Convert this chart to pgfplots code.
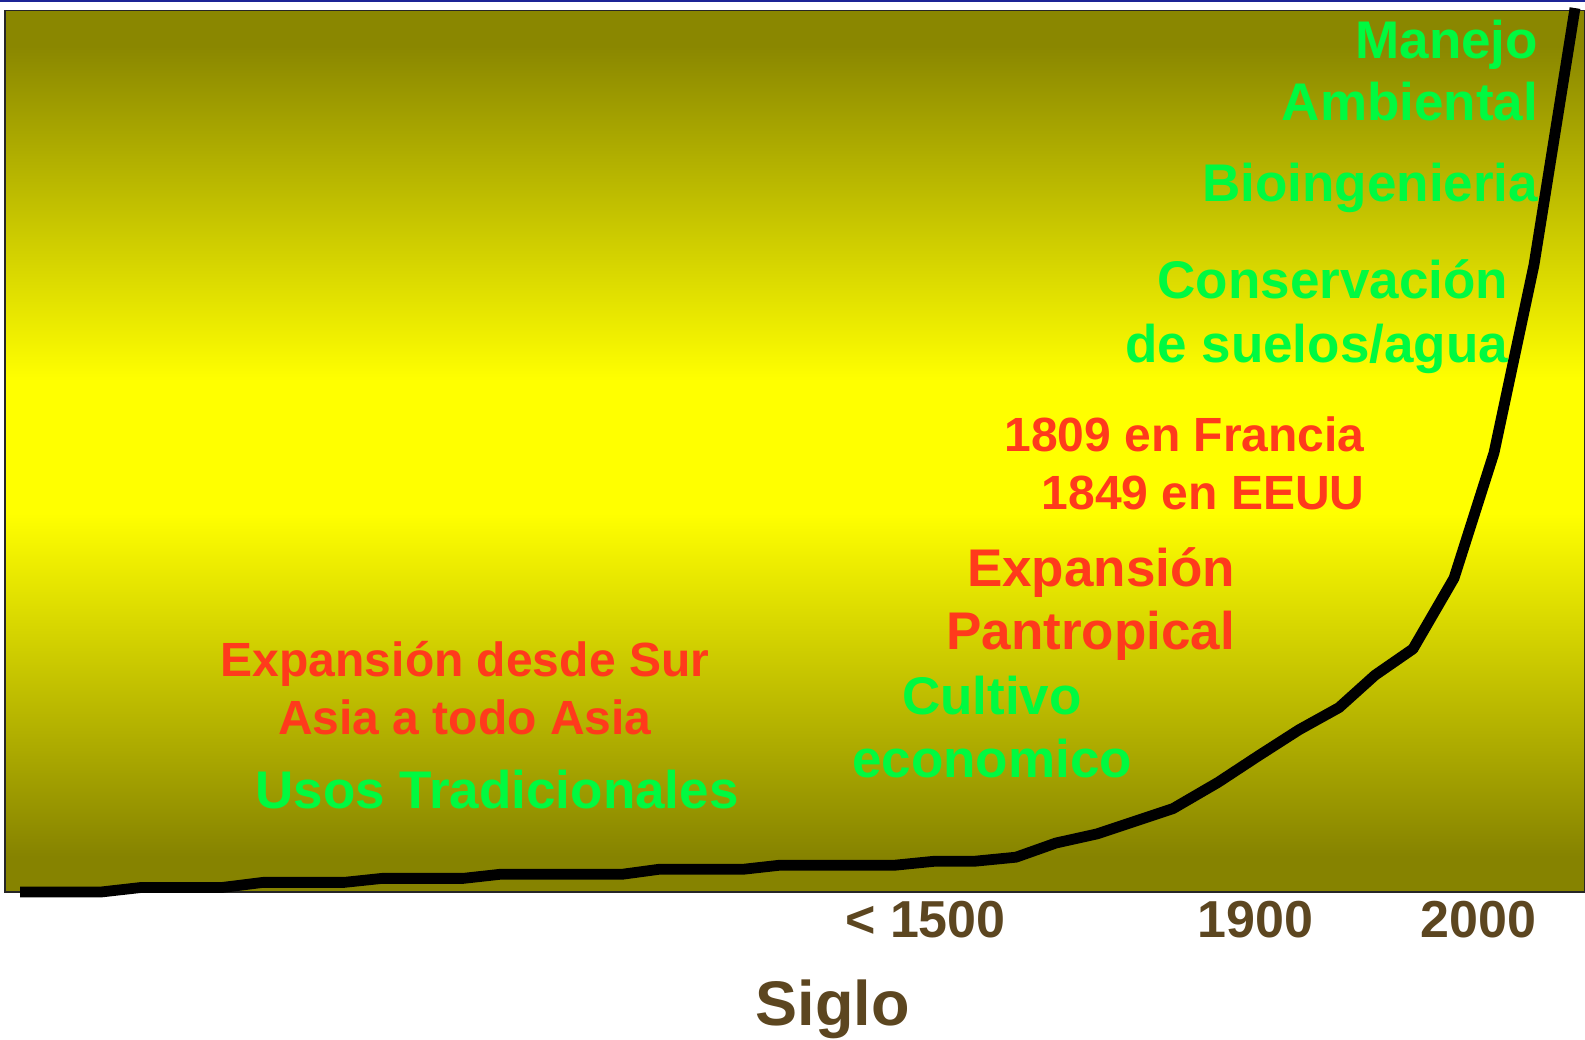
\documentclass[border=0pt]{standalone}
\usepackage{fontspec}
\setmainfont{Liberation Sans}
\usepackage{pgfplots}
\pgfplotsset{compat=1.18}
\definecolor{gr}{RGB}{0,250,64}
\definecolor{rd}{RGB}{255,58,28}
\definecolor{br}{RGB}{92,70,32}
\definecolor{olivetop}{RGB}{138,135,0}
\definecolor{olivebot}{RGB}{134,131,0}
\definecolor{yel}{RGB}{255,255,0}
\definecolor{topblue}{RGB}{28,36,150}
\pgfdeclareverticalshading{bgshade}{100bp}{color(0bp)=(olivebot); color(27bp)=(olivebot); color(46.5bp)=(yel); color(54bp)=(yel); color(73bp)=(olivetop); color(100bp)=(olivetop)}
\begin{document}
\begin{tikzpicture}
\useasboundingbox (0,0) rectangle (792.5pt,519.5pt);
\fill[topblue] (0,518.6pt) rectangle (792.5pt,519.5pt);
\begin{axis}[
  at={(2.5pt,73.5pt)}, anchor=south west,
  scale only axis, width=790pt, height=440.75pt,
  xmin=5, xmax=1585, ymin=0, ymax=881.5,
  axis background/.style={shading=bgshade},
  axis line style={draw=black!85, line width=0.6pt},
  ytick=\empty,
  xtick={925.5,1255.4,1478.3},
  xticklabels={{< 1500},{1900},{2000}},
  major tick length=0pt,
  xticklabel style={font=\fontsize{26}{30}\selectfont\bfseries, text=br, anchor=base, yshift=-23pt, inner sep=0pt},
  xlabel={Siglo},
  xlabel style={font=\fontsize{31.5}{36}\selectfont\bfseries, text=br, anchor=base, inner sep=0pt, at={(axis description cs:0.524,-0.1516)}},
  clip=false,
]
\addplot[black, line width=5.4pt, line join=round] coordinates {
(20,0) (101,0) (141,4.5) (222,4.5) (263,9.6) (344,9.6) (382,13.6) (463,13.6)
(500,17.7) (622,17.7) (659,22.7) (743,22.7) (780,26.8) (895,26.8) (935,30.8)
(975,30.8) (1016,34.8) (1056,49) (1097,58.1) (1173,83.4) (1218,109.6)
(1258,135.9) (1299,162.2) (1339,184.4) (1375,216.8) (1413,243.1) (1454,313.8)
(1494,439.2) (1534,627.2) (1575,883.9)
};
\begin{scope}[font=\fontsize{26.5}{30}\selectfont\bfseries, every node/.style={inner sep=0pt, outer sep=0pt}]
\node[anchor=base east, text=gr] at (axis cs:1538,833.4) {Manejo};
\node[anchor=base east, text=gr] at (axis cs:1538,771.1) {Ambiental};
\node[anchor=base east, text=gr] at (axis cs:1538,690.2) {Bioingenieria};
\node[anchor=base east, text=gr] at (axis cs:1508,593) {Conservación};
\node[anchor=base east, text=gr] at (axis cs:1508,529) {de suelos/agua};
\node[anchor=base east, text=rd] at (axis cs:1235,305) {Expansión};
\node[anchor=base east, text=rd] at (axis cs:1235,242.5) {Pantropical};
\node[anchor=base, text=gr] at (axis cs:992,177) {Cultivo};
\node[anchor=base, text=gr] at (axis cs:992,114) {economico};
\node[anchor=base, text=gr] at (axis cs:497,83) {Usos Tradicionales};
\end{scope}
\begin{scope}[font=\fontsize{24}{28}\selectfont\bfseries, every node/.style={inner sep=0pt, outer sep=0pt}]
\node[anchor=base east, text=rd] at (axis cs:1364.6,440) {1809 en Francia};
\node[anchor=base east, text=rd] at (axis cs:1364.6,382.5) {1849 en EEUU};
\node[anchor=base, text=rd] at (axis cs:465,215) {Expansión desde Sur};
\node[anchor=base, text=rd] at (axis cs:465,157) {Asia a todo Asia};
\end{scope}
\end{axis}
\end{tikzpicture}
\end{document}
